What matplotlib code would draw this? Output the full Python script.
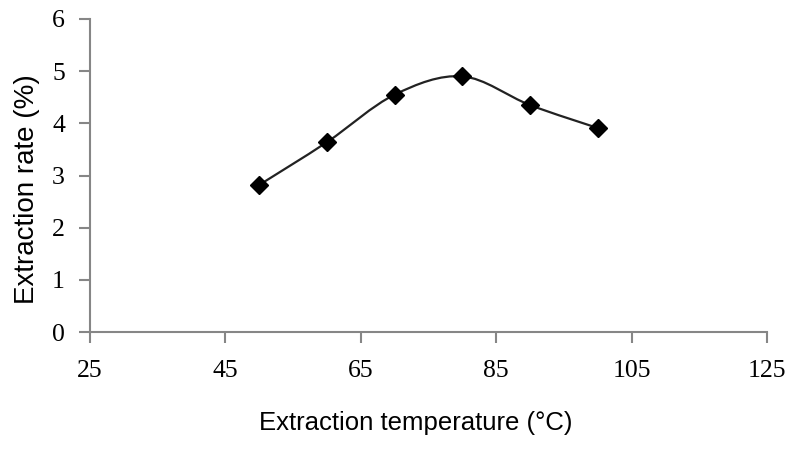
import numpy as np
import matplotlib
matplotlib.use("Agg")
import matplotlib.pyplot as plt
from matplotlib.path import Path
from matplotlib.patches import PathPatch

# data
temperatures = [50, 60, 70, 80, 90, 100]
extraction_rate = [2.82, 3.64, 4.55, 4.90, 4.35, 3.91]
x_ticks = [25, 45, 65, 85, 105, 125]
y_ticks = [0, 1, 2, 3, 4, 5, 6]

fig = plt.figure(figsize=(7.94, 4.5), dpi=100)
ax = fig.add_axes([0.1134, 0.2622, 0.966 - 0.1134, 0.9578 - 0.2622])

# smoothed line like excel (bezier segments through the points)
xs = np.array(temperatures, dtype=float)
ys = np.array(extraction_rate, dtype=float)
n = len(xs)
verts = [(xs[0], ys[0])]
codes = [Path.MOVETO]
for i in range(n - 1):
    p0 = (xs[max(i - 1, 0)], ys[max(i - 1, 0)])
    p1 = (xs[i], ys[i])
    p2 = (xs[i + 1], ys[i + 1])
    p3 = (xs[min(i + 2, n - 1)], ys[min(i + 2, n - 1)])
    c1 = (p1[0] + (p2[0] - p0[0]) / 6, p1[1] + (p2[1] - p0[1]) / 6)
    c2 = (p2[0] - (p3[0] - p1[0]) / 6, p2[1] - (p3[1] - p1[1]) / 6)
    verts += [c1, c2, p2]
    codes += [Path.CURVE4] * 3
ax.add_patch(PathPatch(Path(verts, codes), facecolor="none", edgecolor="#222222", lw=1.6))
ax.plot(temperatures, extraction_rate, linestyle="none", marker="D", markersize=9,
        color="black", zorder=3)

ax.set_xlim(25, 125)
ax.set_ylim(0, 6)
ax.set_xticks(x_ticks)
ax.set_yticks(y_ticks)

for s in ["top", "right"]:
    ax.spines[s].set_visible(False)
for s in ["left", "bottom"]:
    ax.spines[s].set_color("#868686")
    ax.spines[s].set_linewidth(1.5)
ax.tick_params(direction="out", length=8, width=1.5, color="#868686",
               labelsize=18.5)
ax.tick_params(axis="y", pad=10)
ax.tick_params(axis="x", pad=12)
for lab in ax.get_xticklabels() + ax.get_yticklabels():
    lab.set_fontfamily("Liberation Serif")

ax.set_xlabel("Extraction temperature (°C)", fontsize=18.5, family="Liberation Sans", labelpad=21)
ax.set_ylabel("Extraction rate (%)", fontsize=20, family="Liberation Sans", labelpad=9)
# labels in the original sit a bit off the axis centre
ax.xaxis.label.set_x(0.4815)
ax.yaxis.label.set_y(0.457)

fig.savefig("out.png", dpi=100)
